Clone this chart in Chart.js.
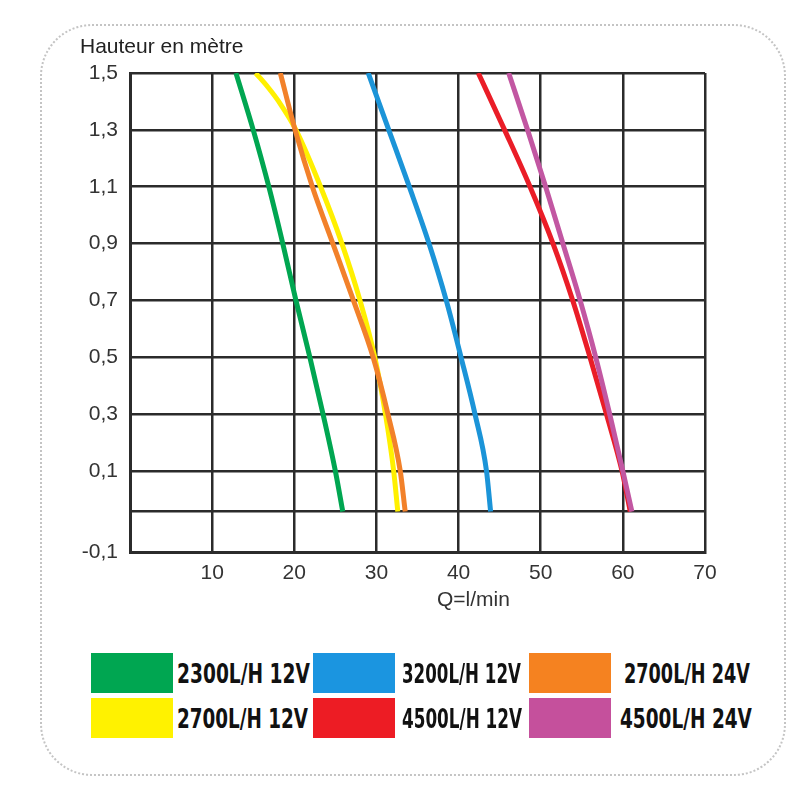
<!DOCTYPE html>
<html lang="fr">
<head>
  <meta charset="UTF-8" />
  <title>Hauteur / débit</title>
  <script src="https://cdn.jsdelivr.net/npm/chart.js"></script>
  <style>
    html, body { margin: 0; padding: 0; background: #fff; }
    body { width: 800px; height: 800px; position: relative; overflow: hidden; font-family: "Liberation Sans", Arial, sans-serif; }
    .frame {
      position: absolute; left: 40px; top: 24px; width: 742px; height: 748px;
      border: 2px dotted #c4c4c4; border-radius: 52px;
    }
    .chart-box { position: absolute; left: 0; top: 0; width: 800px; height: 600px; }
    .y-title { position: absolute; left: 80px; top: 34px; font-size: 21px; color: #222; }
    .x-title { position: absolute; left: 437px; top: 587px; font-size: 21px; color: #333; }
    .legend-item { position: absolute; height: 40px; display: flex; align-items: center; }
    .swatch { width: 82px; height: 40px; }
    .legend-label {
      font-family: "Liberation Sans Narrow", "DejaVu Sans Condensed", sans-serif;
      font-stretch: condensed; font-weight: bold; font-size: 27px; color: #111;
      white-space: nowrap; transform-origin: left center;
    }
  </style>
</head>
<body>
  <div class="frame"></div>
  <div class="chart-box"><canvas id="graphique"></canvas></div>
  <div class="y-title">Hauteur en mètre</div>
  <div class="x-title">Q=l/min</div>
  <div id="legende"></div>

  <script>
    // hauteurs (m)
    const hauteurs = [1.5, 1.3, 1.1, 0.9, 0.7, 0.5, 0.3, 0.1, 0];
    const hauteursJaune = [1.5, 1.45, 1.4, 1.3, 1.1, 0.9, 0.7, 0.5, 0.3, 0.1, 0];

    // débits (l/min) pour chaque pompe
    const debit2300_12 = [12.9, 15.0, 16.9, 18.6, 20.2, 21.9, 23.5, 25.0, 25.9];
    const debit2700_12 = [15.3, 16.8, 18.1, 20.2, 23.2, 25.8, 28.0, 29.8, 31.1, 32.1, 32.6];
    const debit2700_24 = [18.3, 20.1, 22.2, 24.7, 27.2, 29.6, 31.4, 32.9, 33.5];
    const debit3200_12 = [29.0, 31.5, 34.0, 36.4, 38.5, 40.3, 42.0, 43.4, 43.9];
    const debit4500_12 = [42.4, 45.6, 48.7, 51.5, 53.9, 56.0, 58.0, 59.9, 60.9];
    const debit4500_24 = [46.1, 48.4, 50.6, 52.7, 54.8, 56.7, 58.4, 60.0, 61.1];

    const xTicks = [0, 10, 20, 30, 40, 50, 60, 70];
    const yTicks = [-0.1, 0, 0.1, 0.3, 0.5, 0.7, 0.9, 1.1, 1.3, 1.5];

    // échelle verticale non uniforme : la bande -0,1..0,1 est plus haute
    const Y_MIN = -0.1, Y_CASSE = 0.1, Y_MAX = 1.5, PART_BAS = 81 / 479;

    class EchelleCassee extends Chart.LinearScale {
      getPixelForValue(v) {
        if (v === null || v === undefined || isNaN(v)) return NaN;
        let d;
        if (v <= Y_CASSE) d = (v - Y_MIN) / (Y_CASSE - Y_MIN) * PART_BAS;
        else d = PART_BAS + (v - Y_CASSE) / (Y_MAX - Y_CASSE) * (1 - PART_BAS);
        return this.getPixelForDecimal(d);
      }
      getValueForPixel(p) {
        const d = this.getDecimalForPixel(p);
        if (d <= PART_BAS) return Y_MIN + d / PART_BAS * (Y_CASSE - Y_MIN);
        return Y_CASSE + (d - PART_BAS) / (1 - PART_BAS) * (Y_MAX - Y_CASSE);
      }
    }
    EchelleCassee.id = 'cassee';
    EchelleCassee.defaults = Chart.LinearScale.defaults;
    Chart.register(EchelleCassee);

    const serie = (label, debits, h, couleur) => ({
      label: label,
      data: debits.map((q, i) => ({ x: q, y: h[i] })),
      borderColor: couleur,
      backgroundColor: couleur,
      borderWidth: 5,
      pointRadius: 0,
      cubicInterpolationMode: 'monotone',
      fill: false
    });

    // l'ordre compte : le premier jeu est dessiné au-dessus
    const jeux = [
      serie('4500L/H 24V', debit4500_24, hauteurs, '#c257a2'),
      serie('4500L/H 12V', debit4500_12, hauteurs, '#ea1d27'),
      serie('3200L/H 12V', debit3200_12, hauteurs, '#1b94d8'),
      serie('2700L/H 24V', debit2700_24, hauteurs, '#f2812a'),
      serie('2700L/H 12V', debit2700_12, hauteursJaune, '#fff000'),
      serie('2300L/H 12V', debit2300_12, hauteurs, '#00a651')
    ];

    const police = { family: '"Liberation Sans", Arial, sans-serif', size: 21 };
    const trait = '#2b2b2b';

    new Chart(document.getElementById('graphique'), {
      type: 'line',
      data: { datasets: jeux },
      options: {
        responsive: true,
        maintainAspectRatio: false,
        animation: false,
        layout: { padding: { top: 73, right: 95, left: 0, bottom: 0 } },
        plugins: { legend: { display: false }, tooltip: { enabled: false } },
        scales: {
          x: {
            type: 'linear',
            min: 0, max: 70,
            afterBuildTicks: s => { s.ticks = xTicks.map(v => ({ value: v })); },
            afterFit: s => { s.height = 48; },
            ticks: {
              font: police, color: '#333', padding: 9,
              callback: v => (v === 0 ? '' : String(v))
            },
            grid: { color: trait, lineWidth: 2.5, drawTicks: false },
            border: { color: trait, width: 3 }
          },
          y: {
            type: 'cassee',
            min: Y_MIN, max: Y_MAX,
            afterBuildTicks: s => { s.ticks = yTicks.map(v => ({ value: v })); },
            afterFit: s => { s.width = 130; },
            ticks: {
              font: police, color: '#333', padding: 12,
              callback: v => (Math.abs(v) < 1e-9 ? '' : v.toFixed(1).replace('.', ','))
            },
            grid: { color: trait, lineWidth: 2.5, drawTicks: false },
            border: { color: trait, width: 3 }
          }
        }
      }
    });

    // légende en trois colonnes sous le graphique
    const legendeItems = [
      { label: '2300L/H 12V', couleur: '#00a651', x: 91, y: 653, texteX: 177, largeur: 133 },
      { label: '2700L/H 12V', couleur: '#fff200', x: 91, y: 698, texteX: 177, largeur: 131 },
      { label: '3200L/H 12V', couleur: '#1b95e0', x: 313, y: 653, texteX: 402, largeur: 119 },
      { label: '4500L/H 12V', couleur: '#ed1c24', x: 313, y: 698, texteX: 402, largeur: 120 },
      { label: '2700L/H 24V', couleur: '#f58220', x: 529, y: 653, texteX: 624, largeur: 126 },
      { label: '4500L/H 24V', couleur: '#c5509c', x: 529, y: 698, texteX: 620, largeur: 132 }
    ];
    const boite = document.getElementById('legende');
    legendeItems.forEach(it => {
      const sw = document.createElement('div');
      sw.className = 'legend-item swatch';
      sw.style.left = it.x + 'px';
      sw.style.top = it.y + 'px';
      sw.style.background = it.couleur;
      boite.appendChild(sw);
      const tx = document.createElement('div');
      tx.className = 'legend-item legend-label';
      tx.style.left = it.texteX + 'px';
      tx.style.top = it.y + 'px';
      tx.textContent = it.label;
      boite.appendChild(tx);
      const w = tx.getBoundingClientRect().width;
      tx.style.transform = 'scaleX(' + (it.largeur / w).toFixed(3) + ')';
    });
  </script>
</body>
</html>
